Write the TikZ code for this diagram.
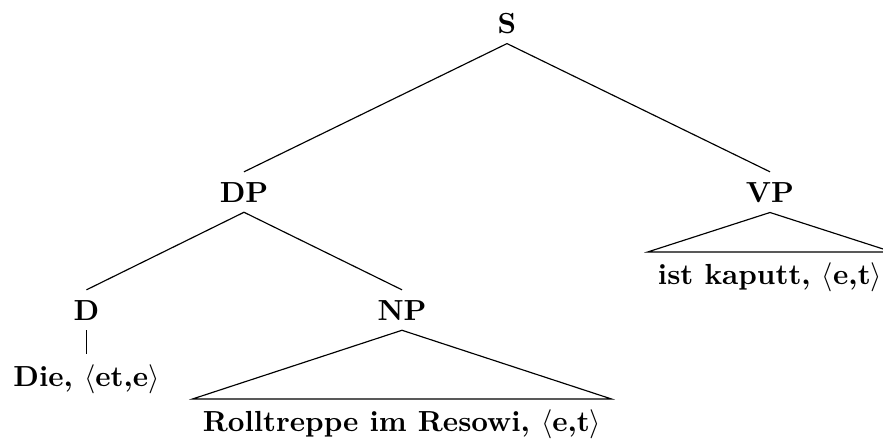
\documentclass[tikz,border=0pt]{standalone}
\begin{document}
\begin{tikzpicture}[x=0.3443pt,y=-0.3443pt,
  cat/.style={font=\bfseries,anchor=base}]
\useasboundingbox (0,0) rectangle (883,438);
% categories
\node[cat] (s) at (507,33) {S};
\node[cat] (dp) at (244,202) {DP};
\node[cat] (vp) at (770,202) {VP};
\node[cat] (d) at (86.5,320) {D};
\node[cat] (np) at (402,320) {NP};
% words
\node[cat] (die) at (86.5,386) {Die, $\langle$et,e$\rangle$};
\node[cat] (rolltreppe) at (402,431) {Rolltreppe im Resowi, $\langle$e,t$\rangle$};
\node[cat] (kaputt) at (770,284) {ist kaputt, $\langle$e,t$\rangle$};
% branches
\draw (s.south)--(dp.north);
\draw (s.south)--(vp.north);
\draw (dp.south)--(d.north);
\draw (dp.south)--(np.north);
\draw (d.south)--(die.north);
% roofs
\draw (np.south)--(rolltreppe.north west)--(rolltreppe.north east)--cycle;
\draw (vp.south)--(kaputt.north west)--(kaputt.north east)--cycle;
\end{tikzpicture}
\end{document}
